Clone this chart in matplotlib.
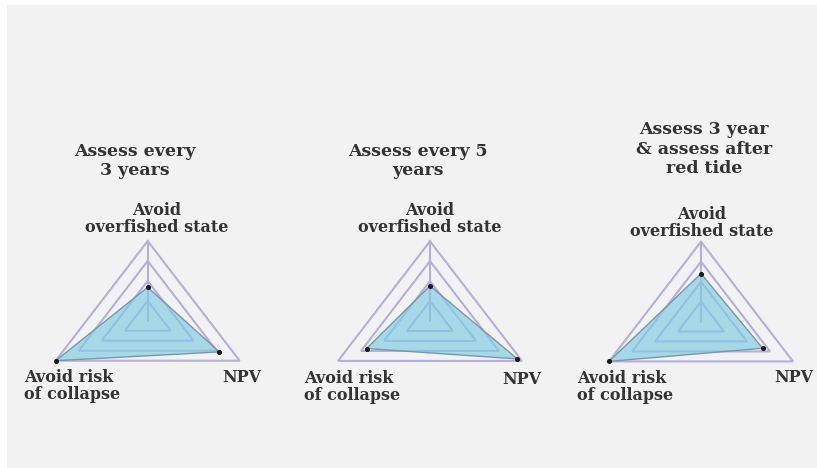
import numpy as np
import matplotlib.pyplot as plt
from matplotlib.patches import Rectangle

# datos
categorias = ["Avoid\noverfished state", "NPV", "Avoid risk\nof collapse"]
titulos = ["Assess every\n3 years", "Assess every 5\nyears", "Assess 3 year\n& assess after\nred tide"]
valores_3y = [0.42, 0.78, 1.0]
valores_5y = [0.44, 0.95, 0.69]
valores_3y_rt = [0.60, 0.67, 1.0]
anillos = [0.25, 0.5, 0.75, 1.0]

W, H = 817, 468
fig = plt.figure(figsize=(W / 100, H / 100), dpi=100)
fig.patch.set_facecolor('white')
fig.add_artist(Rectangle((7 / W, 0), 1 - 7 / W, 1 - 5 / H, transform=fig.transFigure,
                         facecolor='#f2f2f2', edgecolor='none', zorder=0))

def px(x, y):
    return x / W, 1 - y / H

# ángulos (0 = arriba, sentido horario)
ang = np.deg2rad([0, 120, 240])

def xy(vals):
    v = np.asarray(vals, dtype=float)
    return v * np.sin(ang), v * np.cos(ang)

# centros y escalas (pixeles)
centros = [(147.7, 320.8), (430.0, 321.0), (701.0, 321.5)]
sx, sy = 106.2, 79.8
series = [valores_3y, valores_5y, valores_3y_rt]

col_texto = '#333333'
fuente = 'DejaVu Serif'

for (cx, cy), vals in zip(centros, series):
    x0, x1, y0, y1 = -1.15, 1.15, -0.65, 1.15
    left = cx + x0 * sx
    bottom = cy - y0 * sy
    ax = fig.add_axes([left / W, 1 - bottom / H, (x1 - x0) * sx / W, (y1 - y0) * sy / H])
    ax.set_xlim(x0, x1)
    ax.set_ylim(y0, y1)
    ax.axis('off')

    # rejilla triangular
    for r in anillos:
        gx, gy = xy([r] * 3)
        ax.fill(gx, gy, facecolor='none', edgecolor='#b5aedc', linewidth=1.5, zorder=1)
    ax.plot([0, 0], [0, 1], color='#b5aedc', linewidth=1.5, zorder=1)

    # serie
    dx, dy = xy(vals)
    ax.fill(dx, dy, facecolor='#7fcbe3', alpha=0.65, edgecolor='none', zorder=2)
    ax.fill(dx, dy, facecolor='none', edgecolor='#7898a8', linewidth=1.0, zorder=3)
    ax.scatter(dx, dy, s=7, color='#1a1a1a', zorder=4)

# títulos
pos_titulos = [(135, 161), (418, 161), (704, 149)]
for t, (x, y) in zip(titulos, pos_titulos):
    fig.text(*px(x, y), t, ha='center', va='center', family=fuente, fontsize=12.5,
             fontweight='bold', color=col_texto, linespacing=1.2)

# etiquetas de los ejes
top_lbl = [(157, 219), (430, 219), (702, 223)]
npv_lbl = [(242, 378), (522, 379), (794, 377)]
col_lbl = [(24, 386), (304, 387), (577, 387)]
for i in range(3):
    fig.text(*px(*top_lbl[i]), categorias[0], ha='center', va='center', family=fuente,
             fontsize=11.5, fontweight='bold', color=col_texto, linespacing=1.0)
    fig.text(*px(*npv_lbl[i]), categorias[1], ha='center', va='center', family=fuente,
             fontsize=11.5, fontweight='bold', color=col_texto)
    fig.text(*px(*col_lbl[i]), categorias[2], ha='left', va='center', family=fuente,
             fontsize=11.5, fontweight='bold', color=col_texto, linespacing=1.0)

fig.savefig('out.png', dpi=100)
